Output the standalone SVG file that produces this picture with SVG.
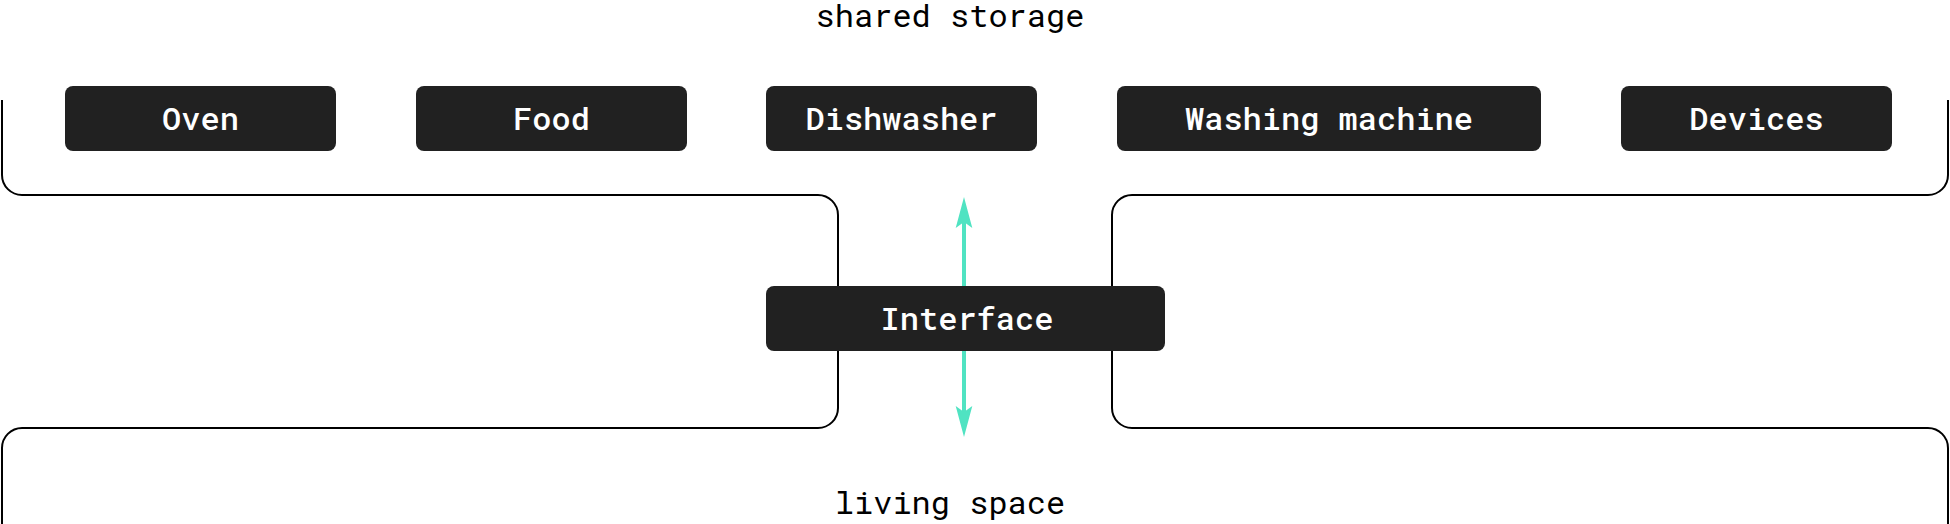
<svg xmlns="http://www.w3.org/2000/svg" width="1950" height="524" viewBox="0 0 1950 524">
<style>
.node rect{fill:#212121}
.node text{fill:#ffffff;font-family:"Roboto Mono","DejaVu Sans Mono","Liberation Mono",monospace;font-size:32px;font-weight:500;text-anchor:middle}
.lbl{fill:#000000;font-family:"Roboto Mono","DejaVu Sans Mono","Liberation Mono",monospace;font-size:32px;text-anchor:middle}
.wall{fill:none;stroke:#000000;stroke-width:2}
.flow{stroke:#50e3c2;stroke-width:4;fill:none}
</style>
<defs>
<marker id="ah" viewBox="0 -9 31 18" markerUnits="userSpaceOnUse" markerWidth="31" markerHeight="18" refX="6" refY="0" orient="auto-start-reverse">
<path d="M0,-8.3 L31,0 L0,8.3 L6,0 Z" fill="#50e3c2"/>
</marker>
</defs>
<g id="regions">
<path class="wall" d="M2,100 V175 A20,20 0 0 0 22,195 H818 A20,20 0 0 1 838,215 V408 A20,20 0 0 1 818,428 H22 A20,20 0 0 0 2,448 V524"/>
<path class="wall" d="M1948,100 V175 A20,20 0 0 1 1928,195 H1132 A20,20 0 0 0 1112,215 V408 A20,20 0 0 0 1132,428 H1928 A20,20 0 0 1 1948,448 V524"/>
<text class="lbl" x="950" y="27">shared storage</text>
<text class="lbl" x="950" y="514">living space</text>
</g>
<g id="connectors">
<line class="flow" x1="964" y1="222" x2="964" y2="412" marker-start="url(#ah)" marker-end="url(#ah)"/>
</g>
<g id="oven" class="node"><rect x="65" y="86" width="271" height="65" rx="8"/><text x="200.5" y="130">Oven</text></g>
<g id="food" class="node"><rect x="416" y="86" width="271" height="65" rx="8"/><text x="551.5" y="130">Food</text></g>
<g id="dishwasher" class="node"><rect x="766" y="86" width="271" height="65" rx="8"/><text x="901.5" y="130">Dishwasher</text></g>
<g id="washing-machine" class="node"><rect x="1117" y="86" width="424" height="65" rx="8"/><text x="1329" y="130">Washing machine</text></g>
<g id="devices" class="node"><rect x="1621" y="86" width="271" height="65" rx="8"/><text x="1756.5" y="130">Devices</text></g>
<g id="interface" class="node"><rect x="766" y="286" width="399" height="65" rx="8"/><text x="967" y="330">Interface</text></g>
</svg>
